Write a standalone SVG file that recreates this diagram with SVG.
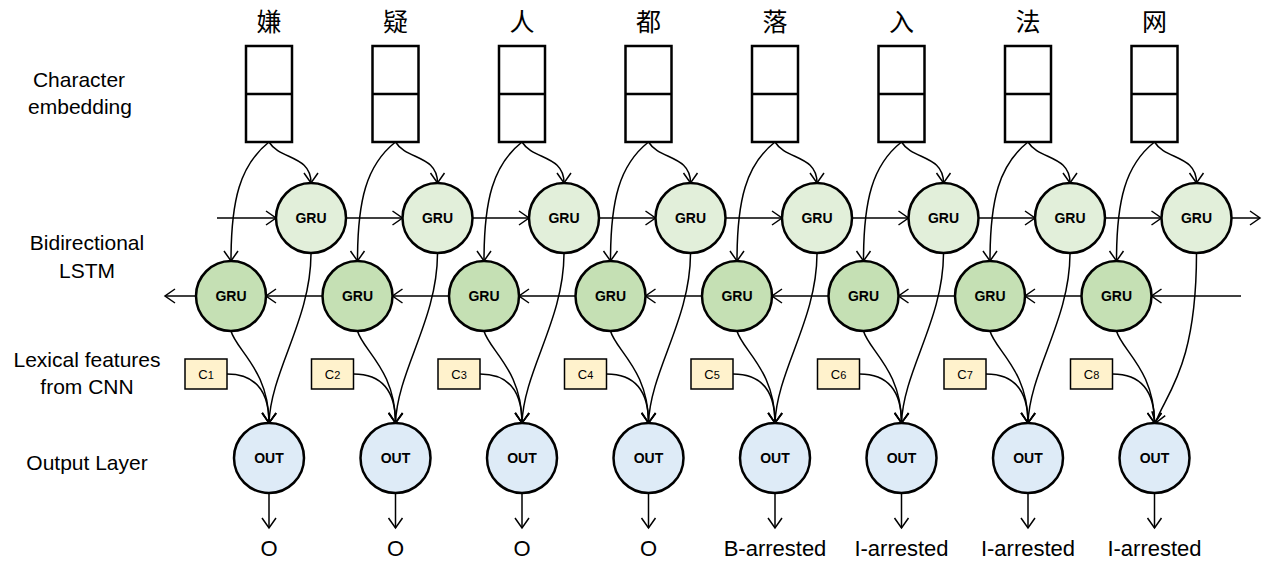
<svg xmlns="http://www.w3.org/2000/svg" width="1271" height="566" viewBox="0 0 1271 566">
<style>
.lbl{font-family:"Liberation Sans",Arial,sans-serif;font-size:21px;fill:#000;text-anchor:middle}
.tag{font-family:"Liberation Sans",Arial,sans-serif;font-size:22px;fill:#000;text-anchor:middle}
.ch{font-family:"Noto Sans CJK SC","Noto Sans",sans-serif;font-size:25px;fill:#000;text-anchor:middle}
.emb{fill:#fff;stroke:#000;stroke-width:2.5}
.fwd{fill:#E2EFDA;stroke:#000;stroke-width:2.5}
.bwd{fill:#C5E0B4;stroke:#000;stroke-width:2.5}
.out{fill:#DEEBF7;stroke:#000;stroke-width:2.5}
.cb{fill:#FFF2CC;stroke:#000;stroke-width:1.5}
.nt{font-family:"Liberation Sans",Arial,sans-serif;font-size:14px;font-weight:bold;fill:#000;text-anchor:middle}
.ct{font-family:"Liberation Sans",Arial,sans-serif;font-size:13px;fill:#000;text-anchor:middle}
.e{fill:none;stroke:#000;stroke-width:1.5;marker-end:url(#ah)}
</style>
<defs>
<marker id="ah" markerUnits="userSpaceOnUse" markerWidth="14" markerHeight="16" refX="11" refY="7" orient="auto" overflow="visible">
<path d="M1,0 L11,7 L1,14" fill="none" stroke="#000" stroke-width="1.5"/>
</marker>
</defs>
<rect width="1271" height="566" fill="#fff"/>
<g id="row-labels">
<text class="lbl" x="79" y="87">Character</text>
<text class="lbl" x="80" y="114">embedding</text>
<text class="lbl" x="87" y="250">Bidirectional</text>
<text class="lbl" x="87" y="278">LSTM</text>
<text class="lbl" x="87" y="367">Lexical features</text>
<text class="lbl" x="87" y="394">from CNN</text>
<text class="lbl" x="87" y="470">Output Layer</text>
</g>
<g id="connectors">
<path class="e" d="M217,218 L276,218"/>
<path class="e" d="M346,218 L402.5,218"/>
<path class="e" d="M472.5,218 L529,218"/>
<path class="e" d="M599,218 L655.5,218"/>
<path class="e" d="M725.5,218 L782,218"/>
<path class="e" d="M852,218 L908.5,218"/>
<path class="e" d="M978.5,218 L1035,218"/>
<path class="e" d="M1105,218 L1161.5,218"/>
<path class="e" d="M1231.5,218 L1260,218"/>
<path class="e" d="M1241,296 L1151.5,296"/>
<path class="e" d="M1081.5,296 L1025,296"/>
<path class="e" d="M955,296 L898.5,296"/>
<path class="e" d="M828.5,296 L772,296"/>
<path class="e" d="M702,296 L645.5,296"/>
<path class="e" d="M575.5,296 L519,296"/>
<path class="e" d="M449,296 L392.5,296"/>
<path class="e" d="M322.5,296 L266,296"/>
<path class="e" d="M196,296 L165,296"/>
<g transform="translate(269,0)">
<path class="e" d="M0,142 C11,160 42,155 42,183"/><path class="e" d="M0,142 C-29,165 -38,200 -38,261"/>
<path class="e" d="M-38,331 C-33,350 0,370 0,423"/><path class="e" d="M42,253 C42,320 2,370 0,423"/>
<path class="e" d="M-42,374 C-14,374 0,390 0,423"/><path class="e" d="M0,493 L0,528"/>
</g>
<g transform="translate(395.5,0)">
<path class="e" d="M0,142 C11,160 42,155 42,183"/><path class="e" d="M0,142 C-29,165 -38,200 -38,261"/>
<path class="e" d="M-38,331 C-33,350 0,370 0,423"/><path class="e" d="M42,253 C42,320 2,370 0,423"/>
<path class="e" d="M-42,374 C-14,374 0,390 0,423"/><path class="e" d="M0,493 L0,528"/>
</g>
<g transform="translate(522,0)">
<path class="e" d="M0,142 C11,160 42,155 42,183"/><path class="e" d="M0,142 C-29,165 -38,200 -38,261"/>
<path class="e" d="M-38,331 C-33,350 0,370 0,423"/><path class="e" d="M42,253 C42,320 2,370 0,423"/>
<path class="e" d="M-42,374 C-14,374 0,390 0,423"/><path class="e" d="M0,493 L0,528"/>
</g>
<g transform="translate(648.5,0)">
<path class="e" d="M0,142 C11,160 42,155 42,183"/><path class="e" d="M0,142 C-29,165 -38,200 -38,261"/>
<path class="e" d="M-38,331 C-33,350 0,370 0,423"/><path class="e" d="M42,253 C42,320 2,370 0,423"/>
<path class="e" d="M-42,374 C-14,374 0,390 0,423"/><path class="e" d="M0,493 L0,528"/>
</g>
<g transform="translate(775,0)">
<path class="e" d="M0,142 C11,160 42,155 42,183"/><path class="e" d="M0,142 C-29,165 -38,200 -38,261"/>
<path class="e" d="M-38,331 C-33,350 0,370 0,423"/><path class="e" d="M42,253 C42,320 2,370 0,423"/>
<path class="e" d="M-42,374 C-14,374 0,390 0,423"/><path class="e" d="M0,493 L0,528"/>
</g>
<g transform="translate(901.5,0)">
<path class="e" d="M0,142 C11,160 42,155 42,183"/><path class="e" d="M0,142 C-29,165 -38,200 -38,261"/>
<path class="e" d="M-38,331 C-33,350 0,370 0,423"/><path class="e" d="M42,253 C42,320 2,370 0,423"/>
<path class="e" d="M-42,374 C-14,374 0,390 0,423"/><path class="e" d="M0,493 L0,528"/>
</g>
<g transform="translate(1028,0)">
<path class="e" d="M0,142 C11,160 42,155 42,183"/><path class="e" d="M0,142 C-29,165 -38,200 -38,261"/>
<path class="e" d="M-38,331 C-33,350 0,370 0,423"/><path class="e" d="M42,253 C42,320 2,370 0,423"/>
<path class="e" d="M-42,374 C-14,374 0,390 0,423"/><path class="e" d="M0,493 L0,528"/>
</g>
<g transform="translate(1154.5,0)">
<path class="e" d="M0,142 C11,160 42,155 42,183"/><path class="e" d="M0,142 C-29,165 -38,200 -38,261"/>
<path class="e" d="M-38,331 C-33,350 0,370 0,423"/><path class="e" d="M42,253 C42,370 10,395 1,423"/>
<path class="e" d="M-42,374 C-14,374 0,390 0,423"/><path class="e" d="M0,493 L0,528"/>
</g>
</g>
<g id="col1" transform="translate(269,0)">
<text class="ch" x="0" y="31">嫌</text>
<rect class="emb" x="-23" y="46" width="46" height="96"/><line x1="-23" y1="94" x2="23" y2="94" stroke="#000" stroke-width="2.5"/>
<g id="fwd1"><circle class="fwd" cx="42" cy="218" r="35"/><text class="nt" x="42" y="223">GRU</text></g>
<g id="bwd1"><circle class="bwd" cx="-38" cy="296" r="35"/><text class="nt" x="-38" y="301">GRU</text></g>
<g id="c1"><rect class="cb" x="-84" y="359" width="42" height="30"/><text class="ct" x="-63" y="379">C<tspan font-size="11">1</tspan></text></g>
<g id="out1"><circle class="out" cx="0" cy="458" r="35"/><text class="nt" x="0" y="463">OUT</text></g>
<text class="tag" x="0" y="556">O</text>
</g>
<g id="col2" transform="translate(395.5,0)">
<text class="ch" x="0" y="31">疑</text>
<rect class="emb" x="-23" y="46" width="46" height="96"/><line x1="-23" y1="94" x2="23" y2="94" stroke="#000" stroke-width="2.5"/>
<g id="fwd2"><circle class="fwd" cx="42" cy="218" r="35"/><text class="nt" x="42" y="223">GRU</text></g>
<g id="bwd2"><circle class="bwd" cx="-38" cy="296" r="35"/><text class="nt" x="-38" y="301">GRU</text></g>
<g id="c2"><rect class="cb" x="-84" y="359" width="42" height="30"/><text class="ct" x="-63" y="379">C<tspan font-size="11">2</tspan></text></g>
<g id="out2"><circle class="out" cx="0" cy="458" r="35"/><text class="nt" x="0" y="463">OUT</text></g>
<text class="tag" x="0" y="556">O</text>
</g>
<g id="col3" transform="translate(522,0)">
<text class="ch" x="0" y="31">人</text>
<rect class="emb" x="-23" y="46" width="46" height="96"/><line x1="-23" y1="94" x2="23" y2="94" stroke="#000" stroke-width="2.5"/>
<g id="fwd3"><circle class="fwd" cx="42" cy="218" r="35"/><text class="nt" x="42" y="223">GRU</text></g>
<g id="bwd3"><circle class="bwd" cx="-38" cy="296" r="35"/><text class="nt" x="-38" y="301">GRU</text></g>
<g id="c3"><rect class="cb" x="-84" y="359" width="42" height="30"/><text class="ct" x="-63" y="379">C<tspan font-size="11">3</tspan></text></g>
<g id="out3"><circle class="out" cx="0" cy="458" r="35"/><text class="nt" x="0" y="463">OUT</text></g>
<text class="tag" x="0" y="556">O</text>
</g>
<g id="col4" transform="translate(648.5,0)">
<text class="ch" x="0" y="31">都</text>
<rect class="emb" x="-23" y="46" width="46" height="96"/><line x1="-23" y1="94" x2="23" y2="94" stroke="#000" stroke-width="2.5"/>
<g id="fwd4"><circle class="fwd" cx="42" cy="218" r="35"/><text class="nt" x="42" y="223">GRU</text></g>
<g id="bwd4"><circle class="bwd" cx="-38" cy="296" r="35"/><text class="nt" x="-38" y="301">GRU</text></g>
<g id="c4"><rect class="cb" x="-84" y="359" width="42" height="30"/><text class="ct" x="-63" y="379">C<tspan font-size="11">4</tspan></text></g>
<g id="out4"><circle class="out" cx="0" cy="458" r="35"/><text class="nt" x="0" y="463">OUT</text></g>
<text class="tag" x="0" y="556">O</text>
</g>
<g id="col5" transform="translate(775,0)">
<text class="ch" x="0" y="31">落</text>
<rect class="emb" x="-23" y="46" width="46" height="96"/><line x1="-23" y1="94" x2="23" y2="94" stroke="#000" stroke-width="2.5"/>
<g id="fwd5"><circle class="fwd" cx="42" cy="218" r="35"/><text class="nt" x="42" y="223">GRU</text></g>
<g id="bwd5"><circle class="bwd" cx="-38" cy="296" r="35"/><text class="nt" x="-38" y="301">GRU</text></g>
<g id="c5"><rect class="cb" x="-84" y="359" width="42" height="30"/><text class="ct" x="-63" y="379">C<tspan font-size="11">5</tspan></text></g>
<g id="out5"><circle class="out" cx="0" cy="458" r="35"/><text class="nt" x="0" y="463">OUT</text></g>
<text class="tag" x="0" y="556">B-arrested</text>
</g>
<g id="col6" transform="translate(901.5,0)">
<text class="ch" x="0" y="31">入</text>
<rect class="emb" x="-23" y="46" width="46" height="96"/><line x1="-23" y1="94" x2="23" y2="94" stroke="#000" stroke-width="2.5"/>
<g id="fwd6"><circle class="fwd" cx="42" cy="218" r="35"/><text class="nt" x="42" y="223">GRU</text></g>
<g id="bwd6"><circle class="bwd" cx="-38" cy="296" r="35"/><text class="nt" x="-38" y="301">GRU</text></g>
<g id="c6"><rect class="cb" x="-84" y="359" width="42" height="30"/><text class="ct" x="-63" y="379">C<tspan font-size="11">6</tspan></text></g>
<g id="out6"><circle class="out" cx="0" cy="458" r="35"/><text class="nt" x="0" y="463">OUT</text></g>
<text class="tag" x="0" y="556">I-arrested</text>
</g>
<g id="col7" transform="translate(1028,0)">
<text class="ch" x="0" y="31">法</text>
<rect class="emb" x="-23" y="46" width="46" height="96"/><line x1="-23" y1="94" x2="23" y2="94" stroke="#000" stroke-width="2.5"/>
<g id="fwd7"><circle class="fwd" cx="42" cy="218" r="35"/><text class="nt" x="42" y="223">GRU</text></g>
<g id="bwd7"><circle class="bwd" cx="-38" cy="296" r="35"/><text class="nt" x="-38" y="301">GRU</text></g>
<g id="c7"><rect class="cb" x="-84" y="359" width="42" height="30"/><text class="ct" x="-63" y="379">C<tspan font-size="11">7</tspan></text></g>
<g id="out7"><circle class="out" cx="0" cy="458" r="35"/><text class="nt" x="0" y="463">OUT</text></g>
<text class="tag" x="0" y="556">I-arrested</text>
</g>
<g id="col8" transform="translate(1154.5,0)">
<text class="ch" x="0" y="31">网</text>
<rect class="emb" x="-23" y="46" width="46" height="96"/><line x1="-23" y1="94" x2="23" y2="94" stroke="#000" stroke-width="2.5"/>
<g id="fwd8"><circle class="fwd" cx="42" cy="218" r="35"/><text class="nt" x="42" y="223">GRU</text></g>
<g id="bwd8"><circle class="bwd" cx="-38" cy="296" r="35"/><text class="nt" x="-38" y="301">GRU</text></g>
<g id="c8"><rect class="cb" x="-84" y="359" width="42" height="30"/><text class="ct" x="-63" y="379">C<tspan font-size="11">8</tspan></text></g>
<g id="out8"><circle class="out" cx="0" cy="458" r="35"/><text class="nt" x="0" y="463">OUT</text></g>
<text class="tag" x="0" y="556">I-arrested</text>
</g>
</svg>
